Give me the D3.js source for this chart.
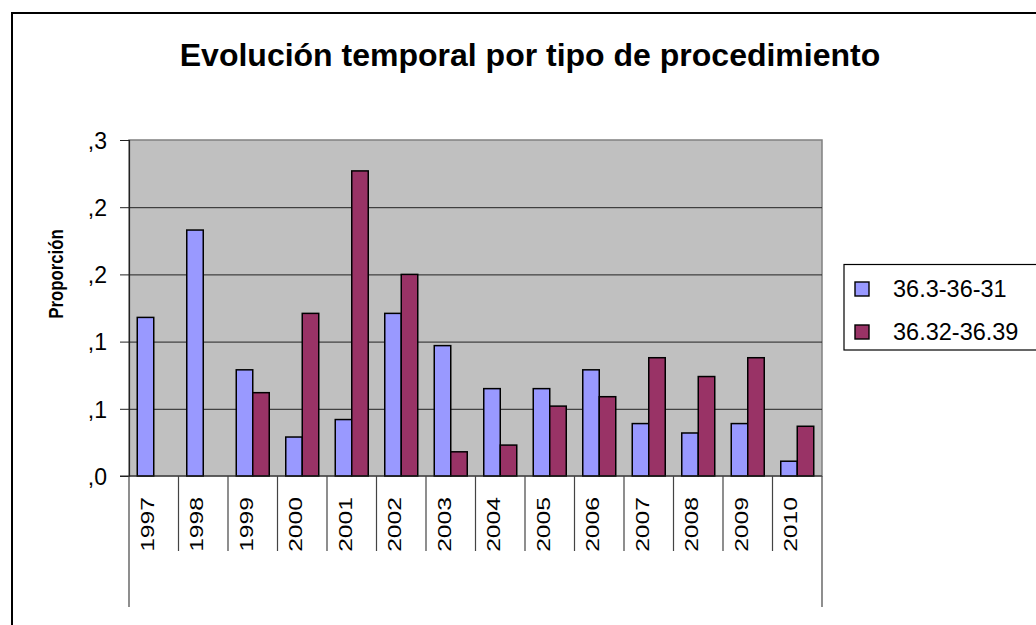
<!DOCTYPE html>
<html lang="es">
<head>
    <meta charset="UTF-8">
    <title>Evolución temporal por tipo de procedimiento</title>
    <script src="https://d3js.org/d3.v7.min.js"></script>
    <style>
        body { margin: 0; background: #fff; }
        svg { display: block; font-family: "Liberation Sans", Arial, sans-serif; }
    </style>
</head>
<body>
    <div id="chart"></div>

    <script>
        // Data
        const years = ["1997", "1998", "1999", "2000", "2001", "2002", "2003",
                       "2004", "2005", "2006", "2007", "2008", "2009", "2010"];
        const seriesNames = ["36.3-36-31", "36.32-36.39"];
        const serieA = [0.118, 0.183, 0.079, 0.029, 0.042, 0.121, 0.097,
                        0.065, 0.065, 0.079, 0.039, 0.032, 0.039, 0.011];
        const serieB = [0, 0, 0.062, 0.121, 0.227, 0.150, 0.018,
                        0.023, 0.052, 0.059, 0.088, 0.074, 0.088, 0.037];
        const tickValues = [0, 0.05, 0.10, 0.15, 0.20, 0.25];
        const tickLabels = [",0", ",1", ",1", ",2", ",2", ",3"];
        const colors = ["#9999FF", "#993366"];

        const W = 1036, H = 625;
        const plot = {left: 129, right: 822, top: 140, bottom: 476};

        const svg = d3.select("#chart").append("svg")
            .attr("width", W)
            .attr("height", H);

        // outer chart border (right/bottom edges fall outside the picture)
        svg.append("rect")
            .attr("x", 12).attr("y", 13)
            .attr("width", 1040).attr("height", 640)
            .attr("fill", "#fff")
            .attr("stroke", "#000")
            .attr("stroke-width", 2);

        // title
        svg.append("text")
            .attr("x", 530).attr("y", 66)
            .attr("text-anchor", "middle")
            .style("font-size", "32px")
            .style("font-weight", "bold")
            .text("Evolución temporal por tipo de procedimiento");

        // scales
        const x = d3.scaleBand()
            .domain(years)
            .range([plot.left, plot.right]);

        const x1 = d3.scaleBand()
            .domain(seriesNames)
            .range([0, x.bandwidth()])
            .paddingInner(0)
            .paddingOuter(0.5);

        const y = d3.scaleLinear()
            .domain([0, 0.25])
            .range([plot.bottom, plot.top]);

        // plot area
        svg.append("rect")
            .attr("x", plot.left).attr("y", plot.top)
            .attr("width", plot.right - plot.left)
            .attr("height", plot.bottom - plot.top)
            .attr("fill", "#C0C0C0")
            .attr("stroke", "#808080")
            .attr("stroke-width", 1.5);

        // gridlines
        svg.append("g")
            .selectAll("line")
            .data(tickValues.slice(1, -1))
            .join("line")
            .attr("x1", plot.left).attr("x2", plot.right)
            .attr("y1", d => y(d) + 0.5).attr("y2", d => y(d) + 0.5)
            .attr("stroke", "#222")
            .attr("stroke-width", 1);

        // bars
        const rows = years.map((yr, i) => ({year: yr, values: [serieA[i], serieB[i]]}));

        svg.append("g")
            .selectAll("g")
            .data(rows)
            .join("g")
            .attr("transform", d => `translate(${x(d.year)},0)`)
            .selectAll("rect")
            .data(d => d.values.map((v, k) => ({key: seriesNames[k], k: k, v: v})).filter(d => d.v > 0))
            .join("rect")
            .attr("x", d => x1(d.key))
            .attr("width", x1.bandwidth())
            .attr("y", d => y(d.v))
            .attr("height", d => y(0) - y(d.v))
            .attr("fill", d => colors[d.k])
            .attr("stroke", "#000")
            .attr("stroke-width", 1.5);

        // y axis
        const yAxis = svg.append("g")
            .attr("transform", `translate(${plot.left},0)`)
            .call(d3.axisLeft(y)
                .tickValues(tickValues)
                .tickFormat((d, i) => tickLabels[i])
                .tickSize(9)
                .tickPadding(13));
        yAxis.select(".domain").attr("stroke", "#222").attr("stroke-width", 1.2);
        yAxis.selectAll(".tick line").attr("stroke", "#222");
        yAxis.selectAll(".tick text")
            .attr("dy", "0.36em")
            .style("font-size", "23px")
            .style("font-family", "'Liberation Sans', Arial, sans-serif")
            .attr("fill", "#000");

        svg.append("text")
            .attr("transform", "translate(63,274) rotate(-90) scale(0.8,1)")
            .attr("text-anchor", "middle")
            .style("font-size", "21px")
            .style("font-weight", "bold")
            .text("Proporción");

        // x axis line and category separators
        svg.append("line")
            .attr("x1", 120).attr("x2", plot.right)
            .attr("y1", plot.bottom).attr("y2", plot.bottom)
            .attr("stroke", "#222")
            .attr("stroke-width", 1.2);

        const edges = years.map(d => x(d)).concat([plot.right]);
        svg.append("g")
            .selectAll("line")
            .data(edges)
            .join("line")
            .attr("x1", d => d).attr("x2", d => d)
            .attr("y1", plot.bottom)
            .attr("y2", (d, i) => (i === 0 || i === edges.length - 1) ? 607 : 551)
            .attr("stroke", "#444")
            .attr("stroke-width", 1.2);

        svg.append("g")
            .selectAll("text")
            .data(years)
            .join("text")
            .attr("transform", d => `translate(${x(d) + x.bandwidth() / 2},497) rotate(-90) scale(1.37,1)`)
            .attr("text-anchor", "end")
            .style("font-size", "18px")
            .text(d => d);

        // legend
        const legend = svg.append("g");
        legend.append("rect")
            .attr("x", 844).attr("y", 264.5)
            .attr("width", 220).attr("height", 85.5)
            .attr("fill", "#fff")
            .attr("stroke", "#000")
            .attr("stroke-width", 1.2);

        const items = legend.selectAll("g")
            .data(seriesNames)
            .join("g")
            .attr("transform", (d, i) => `translate(0,${i * 43})`);

        items.append("rect")
            .attr("x", 855).attr("y", 282)
            .attr("width", 14).attr("height", 14)
            .attr("fill", (d, i) => colors[i])
            .attr("stroke", "#000")
            .attr("stroke-width", 1.4);

        items.append("text")
            .attr("x", 893).attr("y", 297)
            .style("font-size", "23.5px")
            .text(d => d);
    </script>
</body>
</html>
